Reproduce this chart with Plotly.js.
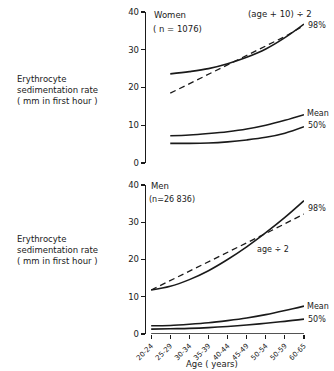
<!DOCTYPE html>
<html>
<head>
<meta charset="utf-8">
<script src="https://cdn.plot.ly/plotly-3.0.1.min.js"></script>
<style>html,body{margin:0;padding:0;background:#fff;}#chart{width:334px;height:371px;}</style>
</head>
<body>
<div id="chart"></div>
<script>
// Age groups (tick labels as printed)
const ageGroups = ["20-24","25-29","30-34","35-39","40-44","45-49","50-54","50-59","60-65"];
// Women: data from 25-29 onward
const womenGroups = ageGroups.slice(1);
const women98 = [23.6, 24.2, 25.0, 26.3, 28.0, 30.2, 33.2, 36.8];
const womenRule = [18.5, 21.0, 23.5, 26.0, 28.5, 31.0, 33.5, 36.4];
const womenMean = [7.2, 7.4, 7.8, 8.3, 9.0, 10.0, 11.3, 12.8];
const women50 = [5.2, 5.2, 5.3, 5.6, 6.1, 6.8, 7.9, 9.6];
// Men
const men98 = [11.8, 12.8, 14.6, 17.0, 20.0, 23.4, 27.2, 31.3, 35.8];
const menRule = [11.8, 14.3, 16.8, 19.4, 22.0, 24.5, 27.0, 29.6, 32.2];
const menMean = [2.2, 2.3, 2.6, 3.0, 3.6, 4.3, 5.2, 6.3, 7.5];
const men50 = [1.3, 1.4, 1.5, 1.7, 2.0, 2.4, 2.9, 3.4, 4.0];

const INK = '#1a1a1a';
const FONT = 'DejaVu Sans, Liberation Sans, sans-serif';
const solid = {color: INK, width: 1.6, shape: 'spline', smoothing: 1};
const dashed = {color: INK, width: 1.3, dash: '6px,4px'};

function tr(x, y, yaxis, line) {
  return {x: x, y: y, xaxis: 'x', yaxis: yaxis, type: 'scatter', mode: 'lines',
          line: line, hoverinfo: 'skip', showlegend: false};
}
const data = [
  tr(womenGroups, women98, 'y2', solid),
  tr(womenGroups, womenRule, 'y2', dashed),
  tr(womenGroups, womenMean, 'y2', solid),
  tr(womenGroups, women50, 'y2', solid),
  tr(ageGroups, men98, 'y', solid),
  tr(ageGroups, menRule, 'y', dashed),
  tr(ageGroups, menMean, 'y', solid),
  tr(ageGroups, men50, 'y', solid)
];

// plot area in pixels: left 146, right 304, top 12, bottom 334
const L = 146, R = 304, T = 12, B = 334;
const px = x => (x - L) / (R - L);
const py = y => (B - y) / (B - T);

function note(text, x, y, anchor, size) {
  return {text: text, xref: 'paper', yref: 'paper', x: px(x), y: py(y),
          xanchor: anchor || 'left', yanchor: 'middle', showarrow: false,
          align: 'left', font: {family: FONT, size: size || 8.5, color: INK}};
}
const yTitle = 'Erythrocyte<br>sedimentation rate<br>( mm in first hour )';

const yax = {
  range: [0, 40], dtick: 10, showgrid: false, zeroline: false,
  showline: true, linecolor: INK, linewidth: 1.3,
  ticks: 'outside', ticklen: 4, tickwidth: 1.2, tickcolor: INK,
  tickfont: {family: FONT, size: 8.5, color: INK}, anchor: 'x'
};

const layout = {
  width: 334, height: 371,
  margin: {l: L, r: 334 - R, t: T, b: 371 - B},
  paper_bgcolor: '#fff', plot_bgcolor: '#fff',
  font: {family: FONT, color: INK},
  xaxis: {
    type: 'category', categoryorder: 'array', categoryarray: ageGroups,
    range: [-0.27, 8], showgrid: false, zeroline: false, showline: false,
    ticks: 'outside', ticklen: 4, tickwidth: 1.2, tickcolor: INK,
    tickangle: -45, tickfont: {family: FONT, size: 7, color: INK},
    anchor: 'y'
  },
  yaxis: Object.assign({}, yax, {domain: [0, (B - 185) / (B - T)]}),
  yaxis2: Object.assign({}, yax, {domain: [(B - 163) / (B - T), 1]}),
  shapes: [{type: 'line', xref: 'x', yref: 'y', x0: 0, x1: 8, y0: 0, y1: 0,
            line: {color: INK, width: 1.3}}],
  annotations: [
    note(yTitle, 15, 90),
    note(yTitle, 15, 250),
    note('Women', 152, 15),
    note('( n = 1076)', 151, 29),
    note('(age + 10) ÷ 2', 246, 14),
    note('98%', 306, 25, 'left', 8),
    note('Mean', 305, 113, 'left', 8),
    note('50%', 306, 125, 'left', 8),
    note('Men', 149, 186),
    note('(n=26 836)', 147, 199, 'left', 8),
    note('98%', 306, 208, 'left', 8),
    note('age ÷ 2', 255, 250, 'left', 8),
    note('Mean', 305, 306, 'left', 8),
    note('50%', 306, 319, 'left', 8),
    note('Age ( years)', 212, 364, 'center', 8.5)
  ]
};

Plotly.newPlot('chart', data, layout, {staticPlot: true, displayModeBar: false});
</script>
</body>
</html>
